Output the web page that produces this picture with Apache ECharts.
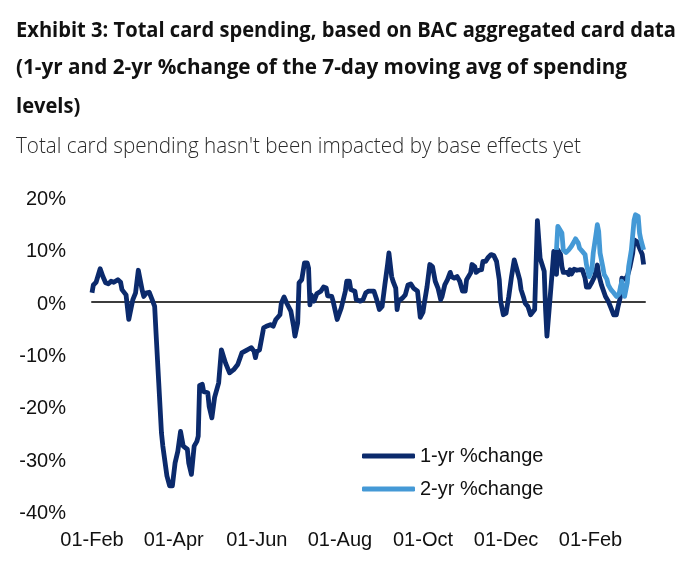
<!DOCTYPE html>
<html>
<head>
<meta charset="utf-8">
<script src="https://cdn.jsdelivr.net/npm/echarts@6/dist/echarts.min.js"></script>
<style>
html,body{margin:0;padding:0;background:#fff;}
#chart{width:690px;height:569px;}
</style>
</head>
<body>
<div id="chart"></div>
<script>
const titleLines = [
  'Exhibit 3: Total card spending, based on BAC aggregated card data',
  '(1-yr and 2-yr %change of the 7-day moving avg of spending',
  'levels)'
];
const subtitleText = "Total card spending hasn't been impacted by base effects yet";
const seriesNames = ['1-yr %change', '2-yr %change'];

const tickDates = ['2020-02-01','2020-04-01','2020-06-01','2020-08-01','2020-10-01','2020-12-01','2021-02-01'];
const tickLabels = ['01-Feb','01-Apr','01-Jun','01-Aug','01-Oct','01-Dec','01-Feb'];
const yTicks = [-40, -30, -20, -10, 0, 10, 20];
const xRange = ['2020-02-01', '2021-03-13'];

const oneYrDates = [
'2020-02-01','2020-02-02','2020-02-04','2020-02-07','2020-02-09','2020-02-11','2020-02-13','2020-02-15','2020-02-17','2020-02-20',
'2020-02-22','2020-02-23','2020-02-26','2020-02-28','2020-02-29','2020-03-02','2020-03-04','2020-03-06','2020-03-07','2020-03-09',
'2020-03-10','2020-03-12','2020-03-14','2020-03-16','2020-03-18','2020-03-19','2020-03-21','2020-03-23','2020-03-24','2020-03-27',
'2020-03-29','2020-03-31','2020-04-02','2020-04-04','2020-04-06','2020-04-08','2020-04-11','2020-04-12','2020-04-14','2020-04-15',
'2020-04-16','2020-04-18','2020-04-19','2020-04-20','2020-04-22','2020-04-23','2020-04-26','2020-04-27','2020-04-29','2020-04-30',
'2020-05-01','2020-05-04','2020-05-06','2020-05-07','2020-05-09','2020-05-12','2020-05-15','2020-05-18','2020-05-21','2020-05-25',
'2020-05-28','2020-05-30','2020-05-31','2020-06-01','2020-06-03','2020-06-06','2020-06-08','2020-06-11','2020-06-13','2020-06-15',
'2020-06-18','2020-06-19','2020-06-21','2020-06-23','2020-06-26','2020-06-28','2020-06-29','2020-07-01','2020-07-02','2020-07-04',
'2020-07-06','2020-07-08','2020-07-09','2020-07-10','2020-07-11','2020-07-13','2020-07-15','2020-07-18','2020-07-20','2020-07-22',
'2020-07-23','2020-07-26','2020-07-27','2020-07-30','2020-07-31','2020-08-02','2020-08-05','2020-08-06','2020-08-08','2020-08-09',
'2020-08-12','2020-08-13','2020-08-16','2020-08-18','2020-08-20','2020-08-22','2020-08-26','2020-08-28','2020-08-30','2020-09-01',
'2020-09-03','2020-09-05','2020-09-06','2020-09-07','2020-09-08','2020-09-09','2020-09-11','2020-09-12','2020-09-13','2020-09-16',
'2020-09-18','2020-09-20','2020-09-22','2020-09-24','2020-09-27','2020-09-29','2020-10-01','2020-10-02','2020-10-04','2020-10-06',
'2020-10-08','2020-10-10','2020-10-12','2020-10-14','2020-10-15','2020-10-17','2020-10-19','2020-10-21','2020-10-22','2020-10-24',
'2020-10-26','2020-10-28','2020-10-30','2020-11-01','2020-11-02','2020-11-05','2020-11-06','2020-11-08','2020-11-09','2020-11-11',
'2020-11-13','2020-11-14','2020-11-16','2020-11-18','2020-11-20','2020-11-22','2020-11-24','2020-11-26','2020-11-27','2020-11-29',
'2020-12-01','2020-12-03','2020-12-05','2020-12-07','2020-12-08','2020-12-09','2020-12-11','2020-12-12','2020-12-14','2020-12-15',
'2020-12-17','2020-12-19','2020-12-20','2020-12-22','2020-12-24','2020-12-25','2020-12-26','2020-12-27','2020-12-29','2020-12-30',
'2020-12-31','2021-01-01','2021-01-03','2021-01-04','2021-01-05','2021-01-06','2021-01-07','2021-01-08','2021-01-10','2021-01-11',
'2021-01-12','2021-01-15','2021-01-16','2021-01-17','2021-01-18','2021-01-20','2021-01-22','2021-01-24','2021-01-26','2021-01-28',
'2021-01-29','2021-01-31','2021-02-02','2021-02-04','2021-02-06','2021-02-07','2021-02-09','2021-02-12','2021-02-14','2021-02-16',
'2021-02-18','2021-02-20','2021-02-21','2021-02-23','2021-02-24','2021-02-26','2021-02-28','2021-03-02','2021-03-04','2021-03-05',
'2021-03-07','2021-03-10','2021-03-11','2021-03-12'
];
const oneYrValues = [
1.7,3.2,3.7,6.3,4.8,3.6,3.4,3.9,3.7,4.2,
3.7,2.3,1.3,-3.4,-3.1,0.4,1.7,6.0,6.0,2.0,
1.0,1.7,1.8,0.5,-0.9,-5.9,-15.5,-25.1,-27.6,-33.3,
-35.2,-35.2,-30.8,-28.6,-24.8,-27.6,-28.2,-30.8,-33.0,-32.7,
-27.6,-26.7,-25.7,-16.0,-15.8,-17.2,-17.4,-20.0,-22.2,-21.9,
-18.3,-15.5,-9.2,-9.5,-11.7,-13.6,-13.0,-12.0,-9.8,-9.2,
-8.8,-9.5,-10.7,-9.5,-9.2,-5.0,-4.7,-4.4,-4.7,-3.4,
-2.5,-0.3,0.9,-0.3,-1.8,-4.7,-6.6,-4.1,3.6,4.2,
7.4,7.4,6.4,-0.6,1.3,0.1,1.5,2.0,2.8,2.6,
1.1,1.0,0.1,-3.4,-3.3,-1.2,2.0,3.9,3.9,2.3,
2.0,0.4,0.1,0.4,1.7,2.0,2.0,0.4,-1.5,-0.9,
3.2,7.1,9.3,9.3,4.8,3.9,2.6,-1.5,0.1,0.7,
1.3,3.2,3.4,2.6,2.0,-3.0,-2.0,-0.3,2.9,7.1,
6.7,3.9,2.6,0.4,1.0,3.2,4.2,5.6,4.8,4.5,
4.8,3.9,2.0,2.0,4.2,5.5,7.1,6.7,5.6,6.0,
6.1,7.7,7.7,8.5,9.0,8.8,7.7,4.2,0.1,-2.5,
-2.2,1.0,4.8,8.0,8.3,6.1,4.2,2.3,0.7,-0.3,
-0.9,-2.5,-2.8,-1.5,15.5,15.5,8.3,8.3,5.8,-1.5,
-6.6,-6.3,2.9,6.1,9.6,9.6,5.2,9.9,9.0,6.7,
5.6,5.6,5.2,6.1,5.3,6.2,6.0,6.1,6.1,4.5,
2.8,2.8,3.7,4.8,7.0,5.2,3.2,1.0,0.1,-1.2,
-2.5,-2.5,-1.2,1.0,4.5,4.3,4.8,6.7,9.3,11.8,
11.5,9.6,9.0,7.1
];

const twoYrDates = [
'2021-01-07','2021-01-08','2021-01-09','2021-01-11','2021-01-12','2021-01-14','2021-01-16','2021-01-18','2021-01-20','2021-01-21',
'2021-01-23','2021-01-24','2021-01-26','2021-01-28','2021-01-29','2021-01-31','2021-02-02','2021-02-03','2021-02-05','2021-02-06',
'2021-02-07','2021-02-08','2021-02-10','2021-02-11','2021-02-13','2021-02-14','2021-02-16','2021-02-18','2021-02-20','2021-02-22',
'2021-02-23','2021-02-24','2021-02-26','2021-02-27','2021-02-28','2021-03-01','2021-03-03','2021-03-05','2021-03-06','2021-03-08',
'2021-03-09','2021-03-10','2021-03-12'
];
const twoYrValues = [
9.9,14.4,14.5,13.1,9.9,9.4,9.9,10.6,11.5,12.0,
11.2,10.2,9.6,9.0,7.1,4.8,6.1,9.3,12.8,14.7,
13.4,9.3,6.7,5.2,4.3,3.2,2.3,1.7,1.0,1.5,
2.8,3.9,1.0,1.0,3.6,6.7,9.9,15.6,16.6,16.3,
13.1,11.8,9.9
];

function toTs(s) {
  const p = s.split('-').map(Number);
  return Date.UTC(p[0], p[1] - 1, p[2]);
}
const tickTs = tickDates.map(toTs);
const pairs = (ds, vs) => ds.map((d, i) => [toTs(d), vs[i]]);

// condensed look: measure text, then squeeze horizontally to the reference widths
const titleFont = 'bold 22px "Open Sans", "Liberation Sans", sans-serif';
const subFont = '300 22px "Open Sans", "Liberation Sans", sans-serif';
const mctx = document.createElement('canvas').getContext('2d');
function textWidth(font, txt) { mctx.font = font; return mctx.measureText(txt).width; }
const baseScale = 660 / textWidth(titleFont, titleLines[0]);
const lineScales = [baseScale, 611 / textWidth(titleFont, titleLines[1]), baseScale];
const subScale = 565 / textWidth(subFont, subtitleText);
const titleBottoms = [41.5, 78.5, 118];

const graphics = titleLines.map((t, i) => ({
  type: 'text',
  x: 16,
  y: titleBottoms[i],
  scaleX: lineScales[i],
  style: {text: t, font: titleFont, fill: '#111111', textAlign: 'left', textVerticalAlign: 'bottom'}
}));
graphics.push({
  type: 'text',
  x: 16,
  y: 158,
  scaleX: subScale,
  style: {text: subtitleText, font: subFont, fill: '#2b2b2b', textAlign: 'left', textVerticalAlign: 'bottom'}
});

const chart = echarts.init(document.getElementById('chart'), null, {renderer: 'canvas'});
const labelFont = 'Liberation Sans, Arial, sans-serif';

chart.setOption({
  animation: false,
  backgroundColor: '#ffffff',
  graphic: graphics,
  legend: {
    orient: 'vertical',
    left: 357,
    top: 441,
    itemWidth: 53,
    itemHeight: 5,
    itemGap: 13,
    icon: 'roundRect',
    data: seriesNames,
    textStyle: {fontFamily: labelFont, fontSize: 20, color: '#111', lineHeight: 20}
  },
  grid: {left: 92, right: 45, top: 197, bottom: 58, containLabel: false},
  xAxis: [
    {
      type: 'value',
      min: toTs(xRange[0]),
      max: toTs(xRange[1]),
      axisLine: {show: false, onZero: false},
      axisTick: {show: false},
      splitLine: {show: false},
      axisLabel: {
        customValues: tickTs,
        hideOverlap: false,
        fontFamily: labelFont,
        fontSize: 20,
        color: '#111',
        margin: 19,
        formatter: function (v) {
          let best = 0, bd = Infinity;
          tickTs.forEach((t, i) => { const d = Math.abs(t - v); if (d < bd) { bd = d; best = i; } });
          return bd < 3 * 86400000 ? tickLabels[best] : '';
        }
      }
    },
    {
      type: 'value',
      min: toTs(xRange[0]),
      max: toTs(xRange[1]),
      position: 'bottom',
      axisLine: {show: true, onZero: true, lineStyle: {color: '#3c3c3c', width: 2}},
      axisTick: {show: false},
      axisLabel: {show: false},
      splitLine: {show: false}
    }
  ],
  yAxis: {
    type: 'value',
    min: yTicks[0],
    max: yTicks[yTicks.length - 1],
    interval: 10,
    axisLine: {show: false},
    axisTick: {show: false},
    splitLine: {show: false},
    axisLabel: {
      color: '#111',
      margin: 26,
      formatter: function (v) { return '{s|' + v + '%}'; },
      rich: {
        s: {fontFamily: labelFont, fontSize: 20, color: '#111', lineHeight: 20, padding: [5, 0, 0, 0]}
      }
    }
  },
  series: [
    {
      name: seriesNames[0],
      type: 'line',
      xAxisIndex: 0,
      data: pairs(oneYrDates, oneYrValues),
      showSymbol: false,
      symbol: 'none',
      color: '#0b2a6c',
      lineStyle: {width: 4.8, color: '#0b2a6c', join: 'round'},
      z: 3
    },
    {
      name: seriesNames[1],
      type: 'line',
      xAxisIndex: 0,
      data: pairs(twoYrDates, twoYrValues),
      showSymbol: false,
      symbol: 'none',
      color: '#4499d6',
      lineStyle: {width: 4.8, color: '#4499d6', join: 'round'},
      z: 4
    }
  ]
});
</script>
</body>
</html>
